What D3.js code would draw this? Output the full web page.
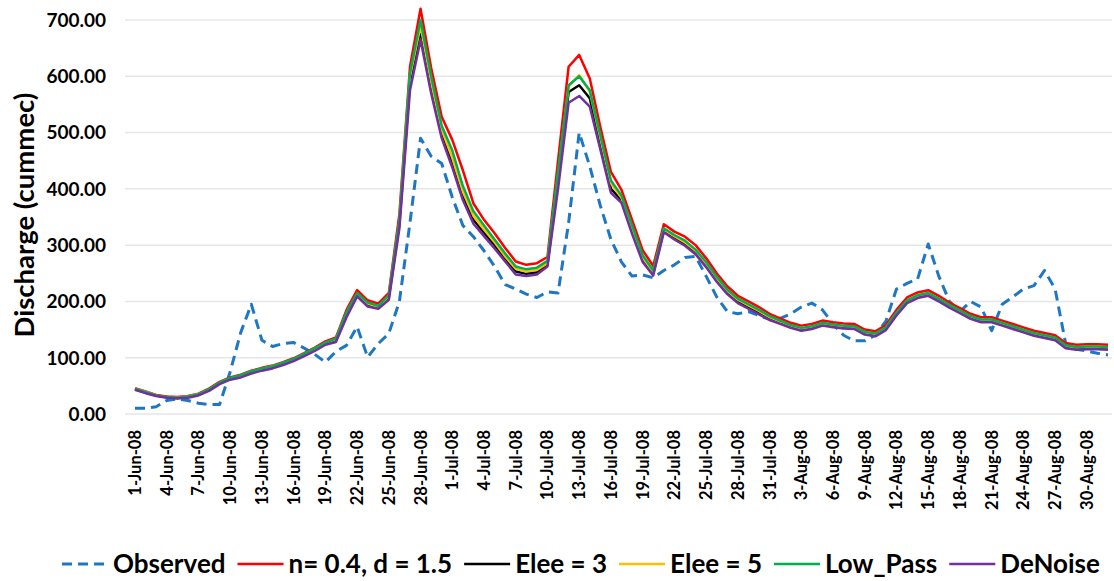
<!DOCTYPE html>
<html>
<head>
<meta charset="utf-8">
<script src="https://cdn.jsdelivr.net/npm/d3@7/dist/d3.min.js"></script>
<style>
  body { margin: 0; background: #fff; }
  text { font-family: Lato, "Open Sans", sans-serif; font-weight: bold; fill: #000; }
</style>
</head>
<body>
<svg id="chart" width="1114" height="581"></svg>
<script>
/** Data */

// one category per day, 1-Jun-08 .. 1-Sep-08
var days = d3.timeDay.range(new Date(2008, 5, 1), new Date(2008, 8, 2));
var fmt = d3.timeFormat("%-d-%b-%y");
var categories = days.map(function(d) { return fmt(d); });

var yTicks = [0, 100, 200, 300, 400, 500, 600, 700];

var observed = [10,10,13,24,27,24,19,17,17,75,
  145,195,131,120,125,127,117,106,92,111,
  122,155,101,125,143,200,340,490,458,445,
  385,335,315,290,262,230,222,213,207,217,
  215,340,500,440,370,310,270,245,247,242,
  255,265,278,280,245,208,182,178,182,175,
  168,170,178,190,197,185,160,140,130,130,
  140,165,222,232,240,302,245,200,182,200,
  190,148,195,208,222,228,255,222,125,115,
  112,108,105];

var nd = [46,40,34,31,30,32,36,45,57,65,
  70,77,82,86,92,99,108,118,129,136,
  185,220,202,196,215,355,617,720,615,528,
  487,433,374,345,321,295,271,265,268,279,
  450,617,638,596,510,430,398,345,291,263,
  337,324,315,300,277,250,227,210,200,190,
  178,170,162,157,160,166,163,161,160,150,
  147,158,185,207,216,220,210,198,188,178,
  172,172,166,160,154,148,144,140,126,123,
  124,124,123];

var elee3 = [44,38,33,30,28,30,34,43,55,63,
  68,74,80,84,90,97,106,115,125,132,
  177,212,195,189,207,338,590,680,580,498,
  445,388,345,322,300,276,253,249,252,265,
  415,572,584,561,480,400,380,325,275,250,
  326,313,302,287,264,238,216,200,190,180,
  170,162,155,150,153,159,156,154,153,143,
  140,151,177,199,208,212,202,191,181,171,
  165,165,159,153,147,141,137,133,119,116,
  117,117,116];

var elee5 = [45,39,33,30,29,31,35,43,55,63,
  68,75,80,85,90,97,106,116,126,133,
  179,213,196,190,209,340,600,690,590,505,
  455,395,352,328,305,280,258,253,256,268,
  425,582,602,573,490,410,384,330,278,252,
  328,316,305,290,267,241,219,203,193,183,
  172,164,157,152,155,161,158,156,155,145,
  142,153,179,201,210,214,204,193,183,173,
  167,167,161,155,149,143,139,135,121,118,
  119,119,118];

var lowPass = [45,39,33,30,29,31,35,44,56,64,
  69,76,81,85,91,98,107,117,127,134,
  181,215,198,192,211,345,605,700,600,512,
  468,405,360,335,310,285,262,257,260,272,
  430,584,600,575,495,415,388,335,282,255,
  330,318,308,292,270,244,221,205,195,185,
  174,166,158,153,156,162,159,157,156,146,
  143,154,180,202,211,215,205,194,184,174,
  168,168,162,156,150,144,140,136,122,119,
  120,120,119];

var deNoise = [43,37,32,29,28,29,33,41,53,61,
  65,72,77,81,87,94,103,112,123,128,
  172,209,191,187,203,330,575,665,570,490,
  438,380,338,316,294,271,248,245,248,262,
  400,553,565,546,470,393,375,320,270,246,
  323,310,299,284,261,235,213,197,187,177,
  167,160,153,148,151,157,154,152,151,141,
  138,149,175,197,206,210,200,189,179,169,
  163,163,157,151,145,139,135,131,117,114,
  115,115,114];

var seriesNames = ["Observed", "n= 0.4, d = 1.5", "Elee = 3", "Elee = 5", "Low_Pass", "DeNoise"];
var seriesValues = [observed, nd, elee3, elee5, lowPass, deNoise];
var seriesColors = ["#1f77c4", "#ff0000", "#000000", "#ffc000", "#00b050", "#7030a0"];

/** Chart */

var plot = {left: 125, right: 1112, top: 20, bottom: 414};
var svg = d3.select("#chart");

var x = d3.scalePoint()
  .domain(categories)
  .range([135, 1108]);

var y = d3.scaleLinear()
  .domain([0, 700])
  .range([plot.bottom, plot.top]);

// gridlines
svg.append("g")
  .selectAll("line")
  .data(yTicks)
  .enter()
  .append("line")
    .attr("x1", plot.left)
    .attr("x2", plot.right)
    .attr("y1", function(d) { return y(d); })
    .attr("y2", function(d) { return y(d); })
    .attr("stroke", "#e6e6e6")
    .attr("stroke-width", 1.5);

// y labels
svg.append("g")
  .selectAll("text")
  .data(yTicks)
  .enter()
  .append("text")
    .attr("x", 106)
    .attr("y", function(d) { return y(d); })
    .attr("dy", "0.36em")
    .attr("text-anchor", "end")
    .style("font-size", "19px")
    .text(function(d) { return d3.format(".2f")(d); });

// x labels, every third day
svg.append("g")
  .selectAll("text")
  .data(categories.filter(function(c, i) { return i % 3 === 0; }))
  .enter()
  .append("text")
    .attr("transform", function(d) { return "translate(" + x(d) + ",430) rotate(-90)"; })
    .attr("dy", "0.36em")
    .attr("text-anchor", "end")
    .style("font-size", "16.5px")
    .text(function(d) { return d; });

// y axis title
svg.append("text")
  .attr("transform", "translate(24," + ((plot.top + plot.bottom) / 2 - 2) + ") rotate(-90)")
  .attr("dy", "0.36em")
  .attr("text-anchor", "middle")
  .style("font-size", "27.5px")
  .text("Discharge (cummec)");

// lines
var line = d3.line()
  .x(function(d, i) { return x(categories[i]); })
  .y(function(d) { return y(d); });

svg.append("g")
  .selectAll("path")
  .data(seriesValues)
  .enter()
  .append("path")
    .attr("fill", "none")
    .attr("stroke", function(d, i) { return seriesColors[i]; })
    .attr("stroke-width", function(d, i) { return i === 0 ? 3 : 2.5; })
    .attr("stroke-dasharray", function(d, i) { return i === 0 ? "10,6" : null; })
    .attr("stroke-linejoin", "round")
    .attr("d", line);

// legend
var legend = svg.append("g").attr("transform", "translate(0,564)");
var lx = 62;
seriesNames.forEach(function(name, i) {
  legend.append("line")
    .attr("x1", lx)
    .attr("x2", lx + 46)
    .attr("stroke", seriesColors[i])
    .attr("stroke-width", i === 0 ? 3 : 2.5)
    .attr("stroke-dasharray", i === 0 ? "10,6" : null);
  var t = legend.append("text")
    .attr("x", lx + 51)
    .attr("dy", "0.36em")
    .style("font-size", "26px")
    .text(name);
  lx += 51 + t.node().getComputedTextLength() + 12;
});
</script>
</body>
</html>
